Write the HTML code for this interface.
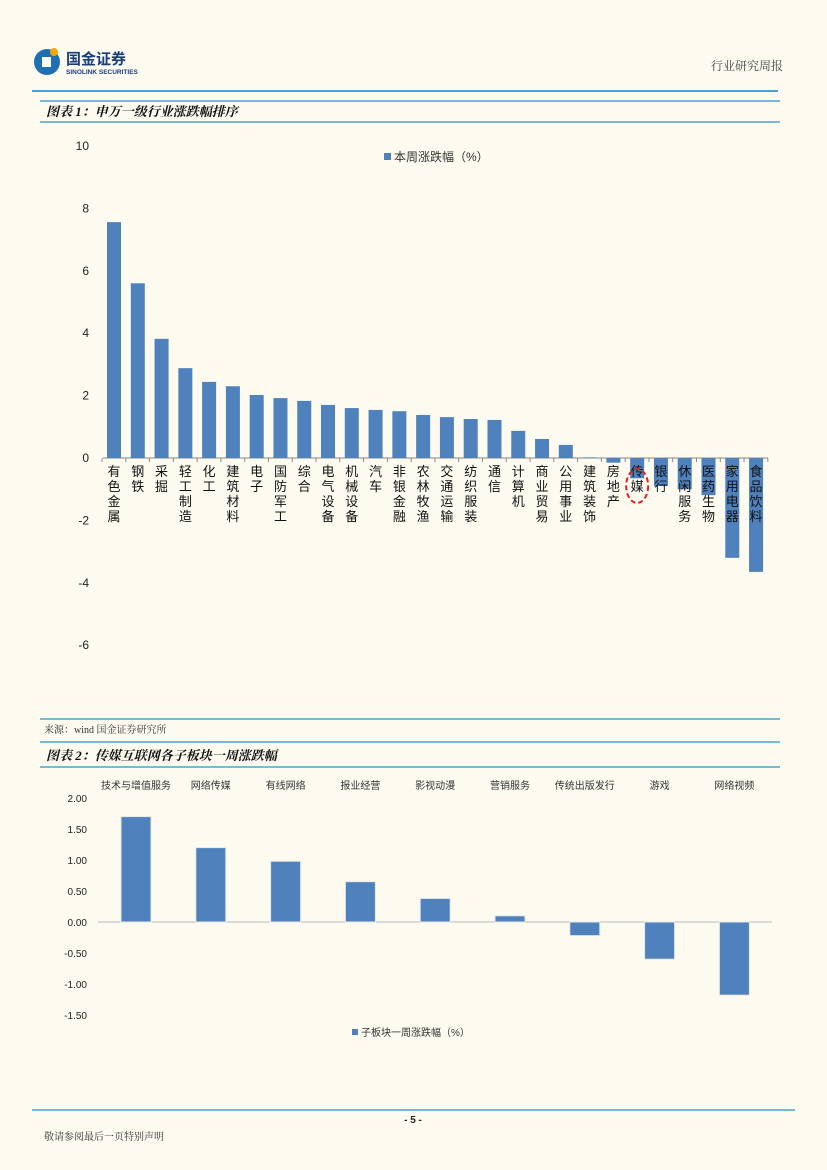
<!DOCTYPE html>
<html><head><meta charset="utf-8">
<style>
html,body{margin:0;padding:0;background:#fdfaf0;}
body{width:827px;height:1170px;position:relative;overflow:hidden;font-family:"Liberation Sans","Noto Sans CJK SC",sans-serif;}
svg{position:absolute;left:0;top:0;}
</style></head>
<body>
<svg id="page" width="827" height="1170">
  <g>
    <circle cx="47" cy="62" r="13" fill="#1f6fb5"/>
    <rect x="42" y="57" width="9" height="10" fill="#fff"/>
    <circle cx="54" cy="52" r="4" fill="#f2a900"/>
    <text x="66" y="64" font-size="15" font-weight="bold" fill="#1a3d7c" font-family="Liberation Sans,Noto Sans CJK SC,sans-serif">国金证券</text>
    <text x="66" y="74" font-size="6.5" font-weight="bold" fill="#1a3d7c">SINOLINK SECURITIES</text>
  </g>
  <text x="783" y="70" font-size="12" text-anchor="end" fill="#444" font-family="Liberation Serif,Noto Serif CJK SC,serif">行业研究周报</text>
  <line x1="32" y1="91" x2="778" y2="91" stroke="#4aa3cf" stroke-width="2"/>

  <line x1="40" y1="101" x2="780" y2="101" stroke="#4aa3cf" stroke-width="1.5"/>
  <text x="46" y="116" font-size="13" font-weight="bold" font-style="italic" fill="#111" font-family="Liberation Serif,Noto Serif CJK SC,serif">图表 1：申万一级行业涨跌幅排序</text>
  <line x1="40" y1="122" x2="780" y2="122" stroke="#4aa3cf" stroke-width="1.5"/>

  <g id="chart1"></g>

  <line x1="40" y1="719" x2="780" y2="719" stroke="#4aa3cf" stroke-width="1.5"/>
  <text x="44" y="733" font-size="10" fill="#333" font-family="Liberation Serif,Noto Serif CJK SC,serif">来源：wind 国金证券研究所</text>
  <line x1="40" y1="742" x2="780" y2="742" stroke="#4aa3cf" stroke-width="1.5"/>
  <text x="46" y="760" font-size="13" font-weight="bold" font-style="italic" fill="#111" font-family="Liberation Serif,Noto Serif CJK SC,serif">图表 2：传媒互联网各子板块一周涨跌幅</text>
  <line x1="40" y1="767" x2="780" y2="767" stroke="#4aa3cf" stroke-width="1.5"/>

  <g id="chart2"></g>

  <line x1="32" y1="1110" x2="795" y2="1110" stroke="#4aa3cf" stroke-width="1.5"/>
  <text x="413" y="1123" font-size="10" font-weight="bold" text-anchor="middle" fill="#222">- 5 -</text>
  <text x="44" y="1140" font-size="10" fill="#333" font-family="Liberation Serif,Noto Serif CJK SC,serif">敬请参阅最后一页特别声明</text>
</svg>
<script>
const cats1 = ["有色金属","钢铁","采掘","轻工制造","化工","建筑材料","电子","国防军工","综合","电气设备","机械设备","汽车","非银金融","农林牧渔","交通运输","纺织服装","通信","计算机","商业贸易","公用事业","建筑装饰","房地产","传媒","银行","休闲服务","医药生物","家用电器","食品饮料"];
const vals1 = [7.56,5.6,3.82,2.88,2.44,2.3,2.02,1.92,1.83,1.7,1.6,1.54,1.5,1.38,1.31,1.25,1.22,0.87,0.61,0.42,0.02,-0.15,-0.65,-0.9,-1.0,-1.19,-3.2,-3.65];
const ticks1 = [10,8,6,4,2,0,-2,-4,-6];
const cats2 = ["技术与增值服务","网络传媒","有线网络","报业经营","影视动漫","营销服务","传统出版发行","游戏","网络视频"];
const vals2 = [1.70,1.20,0.98,0.65,0.38,0.10,-0.22,-0.60,-1.18];
const ticks2 = [2.0,1.5,1.0,0.5,0.0,-0.5,-1.0,-1.5];
const NS="http://www.w3.org/2000/svg";
function mk(tag,attrs,parent){const e=document.createElementNS(NS,tag);for(const k in attrs)e.setAttribute(k,attrs[k]);parent.appendChild(e);return e;}
// chart1
const g1=document.getElementById('chart1');
const y1=v=>458-v*31.2;
const x1=i=>114+i*23.78;
ticks1.forEach(t=>{const e=mk('text',{x:89,y:y1(t)+4,'font-size':12,'text-anchor':'end',fill:'#222'},g1);e.textContent=t;

});
mk('line',{x1:103,y1:458,x2:768,y2:458,stroke:'#888','stroke-width':1},g1);
for(let i=0;i<=cats1.length;i++){mk('line',{x1:102+i*23.78,y1:458,x2:102+i*23.78,y2:462,stroke:'#888'},g1);}
vals1.forEach((v,i)=>{const top=Math.min(y1(v),y1(0)),h=Math.abs(y1(v)-y1(0));
const r=mk('rect',{x:x1(i)-7,y:top,width:14,height:Math.max(h,0.5),fill:'#4f81bd'},g1);

});
cats1.forEach((c,i)=>{[...c].forEach((ch,j)=>{const t=mk('text',{x:x1(i),y:476+j*15,'font-size':13,'text-anchor':'middle',fill:'#111'},g1);t.textContent=ch;

});});
const hi=cats1.indexOf('传媒');
const ell=mk('ellipse',{cx:x1(hi),cy:486,rx:11,ry:17,fill:'none',stroke:'#e02020','stroke-width':2,'stroke-dasharray':'5 3'},g1);


mk('rect',{x:384,y:153,width:7,height:7,fill:'#4f81bd'},g1);
const lg=mk('text',{x:394,y:161,'font-size':12,fill:'#333'},g1);lg.textContent='本周涨跌幅（%）';


// chart2
const g2=document.getElementById('chart2');
const y2=v=>922-v*62;
const x2=i=>136+i*74.8;
ticks2.forEach(t=>{const e=mk('text',{x:87,y:y2(t)+4,'font-size':10,'text-anchor':'end',fill:'#222'},g2);e.textContent=t.toFixed(2);

});
mk('line',{x1:98,y1:922,x2:772,y2:922,stroke:'#bbb'},g2);
vals2.forEach((v,i)=>{const top=Math.min(y2(v),y2(0)),h=Math.abs(y2(v)-y2(0));
const r=mk('rect',{x:x2(i)-15,y:top,width:30,height:h,fill:'#4f81bd',stroke:'#e8e8e8','stroke-width':1},g2);

});
cats2.forEach((c,i)=>{const t=mk('text',{x:x2(i),y:789,'font-size':10,'text-anchor':'middle',fill:'#333'},g2);t.textContent=c;

});
mk('rect',{x:352,y:1029,width:6,height:6,fill:'#4f81bd'},g2);
const l2=mk('text',{x:361,y:1036,'font-size':10,fill:'#333'},g2);l2.textContent='子板块一周涨跌幅（%）';


</script>
</body></html>
